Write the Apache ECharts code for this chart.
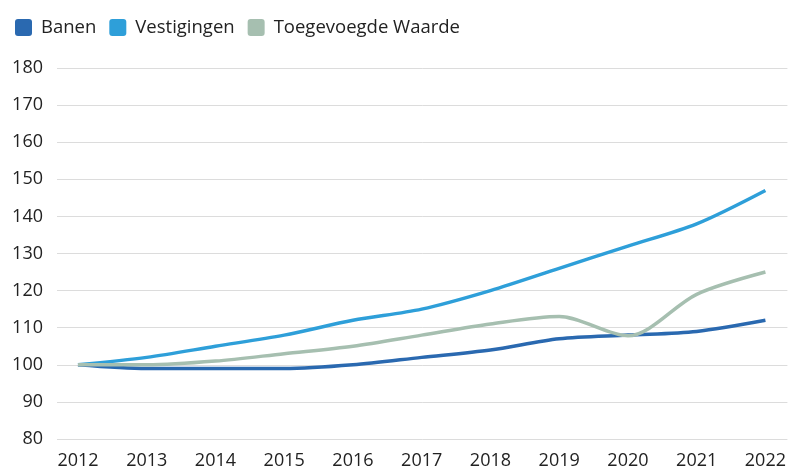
<!DOCTYPE html>
<html>
<head>
<meta charset="utf-8">
<script src="https://cdn.jsdelivr.net/npm/echarts@6/dist/echarts.min.js"></script>
<style>
  html, body { margin: 0; padding: 0; background: #fff; }
  #chart { width: 789px; height: 472px; }
</style>
</head>
<body>
<div id="chart"></div>
<script>
// jaren en indexwaarden (2012 = 100)
var years = [2012, 2013, 2014, 2015, 2016, 2017, 2018, 2019, 2020, 2021, 2022];
var banen = [100, 99, 99, 99, 100, 102, 104, 107, 108, 109, 112];
var vestigingen = [100, 102, 105, 108, 112, 115, 120, 126, 132, 138, 147];
var toegevoegdeWaarde = [100, 100, 101, 103, 105, 108, 111, 113, 107.8, 119, 125];
var yTicks = [80, 90, 100, 110, 120, 130, 140, 150, 160, 170, 180];

function pairs(values) {
  var out = [];
  for (var i = 0; i < years.length; i++) {
    out.push([years[i], values[i]]);
  }
  return out;
}

var myChart = echarts.init(document.getElementById('chart'));
var font = '"Open Sans", "Noto Sans", sans-serif';
// vierkantje met kleine afgeronde hoeken
var squareIcon = 'path://M3,0 H14 A3,3 0 0 1 17,3 V14 A3,3 0 0 1 14,17 H3 A3,3 0 0 1 0,14 V3 A3,3 0 0 1 3,0 Z';

var option = {
  backgroundColor: '#fff',
  animation: false,
  textStyle: { fontFamily: font },
  legend: {
    left: 10,
    top: 13,
    itemWidth: 17,
    itemHeight: 17,
    itemGap: 13,
    icon: squareIcon,
    itemStyle: { borderWidth: 0 },
    textStyle: { fontSize: 18.5, color: '#222', fontFamily: font, padding: [0, 0, 0, 4] },
    data: ['Banen', 'Vestigingen', 'Toegevoegde Waarde']
  },
  grid: { left: 57, right: 0, top: 68, bottom: 33 },
  xAxis: {
    type: 'value',
    min: 2011.695,
    max: 2022.32,
    axisLine: { show: false },
    axisTick: { show: false },
    splitLine: { show: false },
    axisLabel: {
      customValues: years,
      fontSize: 18,
      color: '#222',
      margin: 13,
      fontFamily: font,
      formatter: function (v) { return String(v); }
    }
  },
  yAxis: {
    type: 'value',
    min: yTicks[0],
    max: yTicks[yTicks.length - 1],
    interval: 10,
    axisLine: { show: false },
    axisTick: { show: false },
    axisLabel: { fontSize: 18, color: '#222', margin: 14, fontFamily: font },
    splitLine: { lineStyle: { color: '#dcdcdc', width: 1 } }
  },
  series: [
    {
      name: 'Banen',
      type: 'line',
      smooth: 0.3,
      symbol: 'none',
      data: pairs(banen),
      itemStyle: { color: '#2a69b0' },
      lineStyle: { color: '#2a69b0', width: 3.5 },
      z: 3
    },
    {
      name: 'Vestigingen',
      type: 'line',
      smooth: 0.3,
      symbol: 'none',
      data: pairs(vestigingen),
      itemStyle: { color: '#2e9fd9' },
      lineStyle: { color: '#2e9fd9', width: 3.5 },
      z: 2
    },
    {
      name: 'Toegevoegde Waarde',
      type: 'line',
      smooth: 0.3,
      symbol: 'none',
      data: pairs(toegevoegdeWaarde),
      itemStyle: { color: '#a6bfb0' },
      lineStyle: { color: '#a6bfb0', width: 3.5 },
      z: 4
    }
  ]
};

myChart.setOption(option);
</script>
</body>
</html>
